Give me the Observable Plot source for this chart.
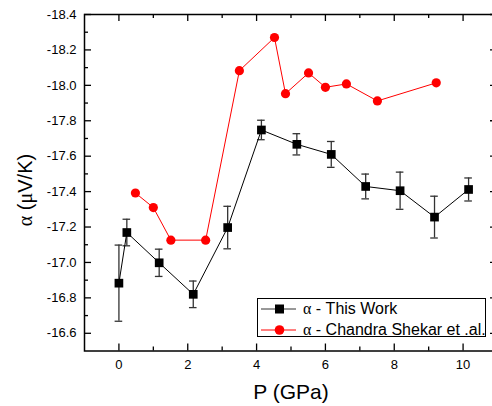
<!DOCTYPE html>
<html>
<head>
<meta charset="utf-8">
<script src="https://cdn.jsdelivr.net/npm/d3@7"></script>
<script src="https://cdn.jsdelivr.net/npm/@observablehq/plot@0.6"></script>
<style>
  html, body { margin: 0; padding: 0; background: #fff; overflow: hidden; }
  #wrap { position: relative; width: 492px; height: 406px; overflow: hidden; font-family: Arial, "Liberation Sans", sans-serif; }
  #wrap svg { max-width: none !important; display: block; }
  .sym { font-family: "Times New Roman", "Liberation Serif", serif; }
  #ylabel { position: absolute; left: 25px; top: 190px; transform: translate(-50%, -50%) rotate(-90deg); font-size: 20px; line-height: 1; white-space: nowrap; color: #000; }
  #legend { position: absolute; left: 257px; top: 298px; width: 229px; height: 39px; border: 1px solid #000; background: #fff; box-sizing: border-box; }
  .row { position: absolute; left: 0; height: 20px; display: flex; align-items: center; }
  .row svg { display: block; }
  .row span.t { font-size: 16px; margin-left: 5px; white-space: nowrap; color: #000; }
</style>
</head>
<body>
<div id="wrap"></div>
<script>
// This work
const thisP   = [0, 0.23, 1.17, 2.16, 3.16, 4.14, 5.17, 6.17, 7.17, 8.17, 9.17, 10.16];
const thisA   = [-16.883, -17.169, -16.998, -16.82, -17.197, -17.748, -17.667, -17.61, -17.429, -17.405, -17.256, -17.412];
const thisErr = [0.215, 0.075, 0.077, 0.075, 0.12, 0.055, 0.06, 0.073, 0.07, 0.105, 0.118, 0.065];
// Chandra Shekar et al.
const refP = [0.48, 1.0, 1.51, 2.52, 3.5, 4.52, 4.84, 5.51, 6.0, 6.61, 7.51, 9.22];
const refA = [-17.392, -17.31, -17.126, -17.126, -18.083, -18.27, -17.953, -18.07, -17.989, -18.008, -17.912, -18.014];

const seriesNames = ["α - This Work", "α - Chandra Shekar et .al."];
const xMajor = [0, 2, 4, 6, 8, 10];
const xMinor = [1, 3, 5, 7, 9];
const yMajor = [-16.6, -16.8, -17.0, -17.2, -17.4, -17.6, -17.8, -18.0, -18.2, -18.4];
const yMinor = [-16.7, -16.9, -17.1, -17.3, -17.5, -17.7, -17.9, -18.1, -18.3];
const xLabel = "P (GPa)";

const thisData = thisP.map((p, i) => ({p, a: thisA[i], lo: thisA[i] - thisErr[i], hi: thisA[i] + thisErr[i]}));
const refData = refP.map((p, i) => ({p, a: refA[i]}));

const W = 497, H = 406, mL = 84, mR = 0, mT = 14, mB = 55.5;
const pw = W - mL - mR, ph = H - mT - mB;

const chart = Plot.plot({
  width: W, height: H,
  marginLeft: mL, marginRight: mR, marginTop: mT, marginBottom: mB,
  style: {fontFamily: 'Arial, "Liberation Sans", sans-serif', background: "#fff", maxWidth: "none"},
  x: {domain: [-1, 11]},
  y: {domain: [-16.5, -18.4]},
  marks: [
    Plot.axisY({ticks: yMajor, tickSize: 0, tickPadding: 8, tickFormat: d => d.toFixed(1), fontSize: 13, label: null, fill: "#000"}),
    Plot.axisX({ticks: xMajor, tickSize: 0, tickPadding: 9, tickFormat: d => String(d), fontSize: 13, label: null, fill: "#000"}),
    // inward ticks
    Plot.tickY(yMajor, {y: d => d, insetRight: pw - 7, stroke: "#000", strokeWidth: 1.3}),
    Plot.tickY(yMinor, {y: d => d, insetRight: pw - 4, stroke: "#000", strokeWidth: 1.3}),
    Plot.tickY(yMajor, {y: d => d, insetLeft: pw - 7, stroke: "#000", strokeWidth: 1.3}),
    Plot.tickY(yMinor, {y: d => d, insetLeft: pw - 4, stroke: "#000", strokeWidth: 1.3}),
    Plot.tickX(xMajor, {x: d => d, insetTop: ph - 7, stroke: "#000", strokeWidth: 1.3}),
    Plot.tickX(xMinor, {x: d => d, insetTop: ph - 4, stroke: "#000", strokeWidth: 1.3}),
    Plot.tickX(xMajor, {x: d => d, insetBottom: ph - 7, stroke: "#000", strokeWidth: 1.3}),
    Plot.tickX(xMinor, {x: d => d, insetBottom: ph - 4, stroke: "#000", strokeWidth: 1.3}),
    Plot.frame({stroke: "#000", strokeWidth: 1.5}),
    // red series
    Plot.line(refData, {x: "p", y: "a", stroke: "#ff0000", strokeWidth: 1}),
    Plot.dot(refData, {x: "p", y: "a", r: 4.6, fill: "#ff0000", stroke: "none"}),
    // black series error bars
    Plot.ruleX(thisData, {x: "p", y1: "lo", y2: "hi", stroke: "#333", strokeWidth: 1.3}),
    Plot.ruleY(thisData, {y: "lo", x1: "p", x2: "p", insetLeft: -3.8, insetRight: -3.8, stroke: "#333", strokeWidth: 1.3}),
    Plot.ruleY(thisData, {y: "hi", x1: "p", x2: "p", insetLeft: -3.8, insetRight: -3.8, stroke: "#333", strokeWidth: 1.3}),
    Plot.line(thisData, {x: "p", y: "a", stroke: "#000", strokeWidth: 1}),
    Plot.dot(thisData, {x: "p", y: "a", r: 4.9, symbol: "square", fill: "#000", stroke: "none"}),
    Plot.text([xLabel], {frameAnchor: "bottom", dy: 41, fontSize: 21, lineAnchor: "middle", textAnchor: "middle", fill: "#000"})
  ]
});

const wrap = document.getElementById("wrap");
wrap.appendChild(chart);

const yl = document.createElement("div");
yl.id = "ylabel";
yl.innerHTML = '<span class="sym">α</span> (<span class="sym">μ</span>V/K)';
wrap.appendChild(yl);

const lg = document.createElement("div");
lg.id = "legend";
const legendStyles = [
  {color: "#000", line: "#333", shape: "square"},
  {color: "#ff0000", line: "#ff0000", shape: "circle"}
];
seriesNames.forEach((name, i) => {
  const row = document.createElement("div");
  row.className = "row";
  row.style.top = (i === 0 ? 0 : 20.5) + "px";
  const st = legendStyles[i];
  const marker = st.shape === "square"
    ? `<rect x="17" y="5.5" width="9" height="9" fill="${st.color}"/>`
    : `<circle cx="21.5" cy="10" r="4.8" fill="${st.color}"/>`;
  const [greek, ...rest] = name.split(" ");
  row.innerHTML = `<svg width="40" height="20"><line x1="3" y1="10" x2="38" y2="10" stroke="${st.line}" stroke-width="1"/>${marker}</svg><span class="t"><span class="sym">${greek}</span> ${rest.join(" ")}</span>`;
  lg.appendChild(row);
});
wrap.appendChild(lg);
</script>
</body>
</html>
